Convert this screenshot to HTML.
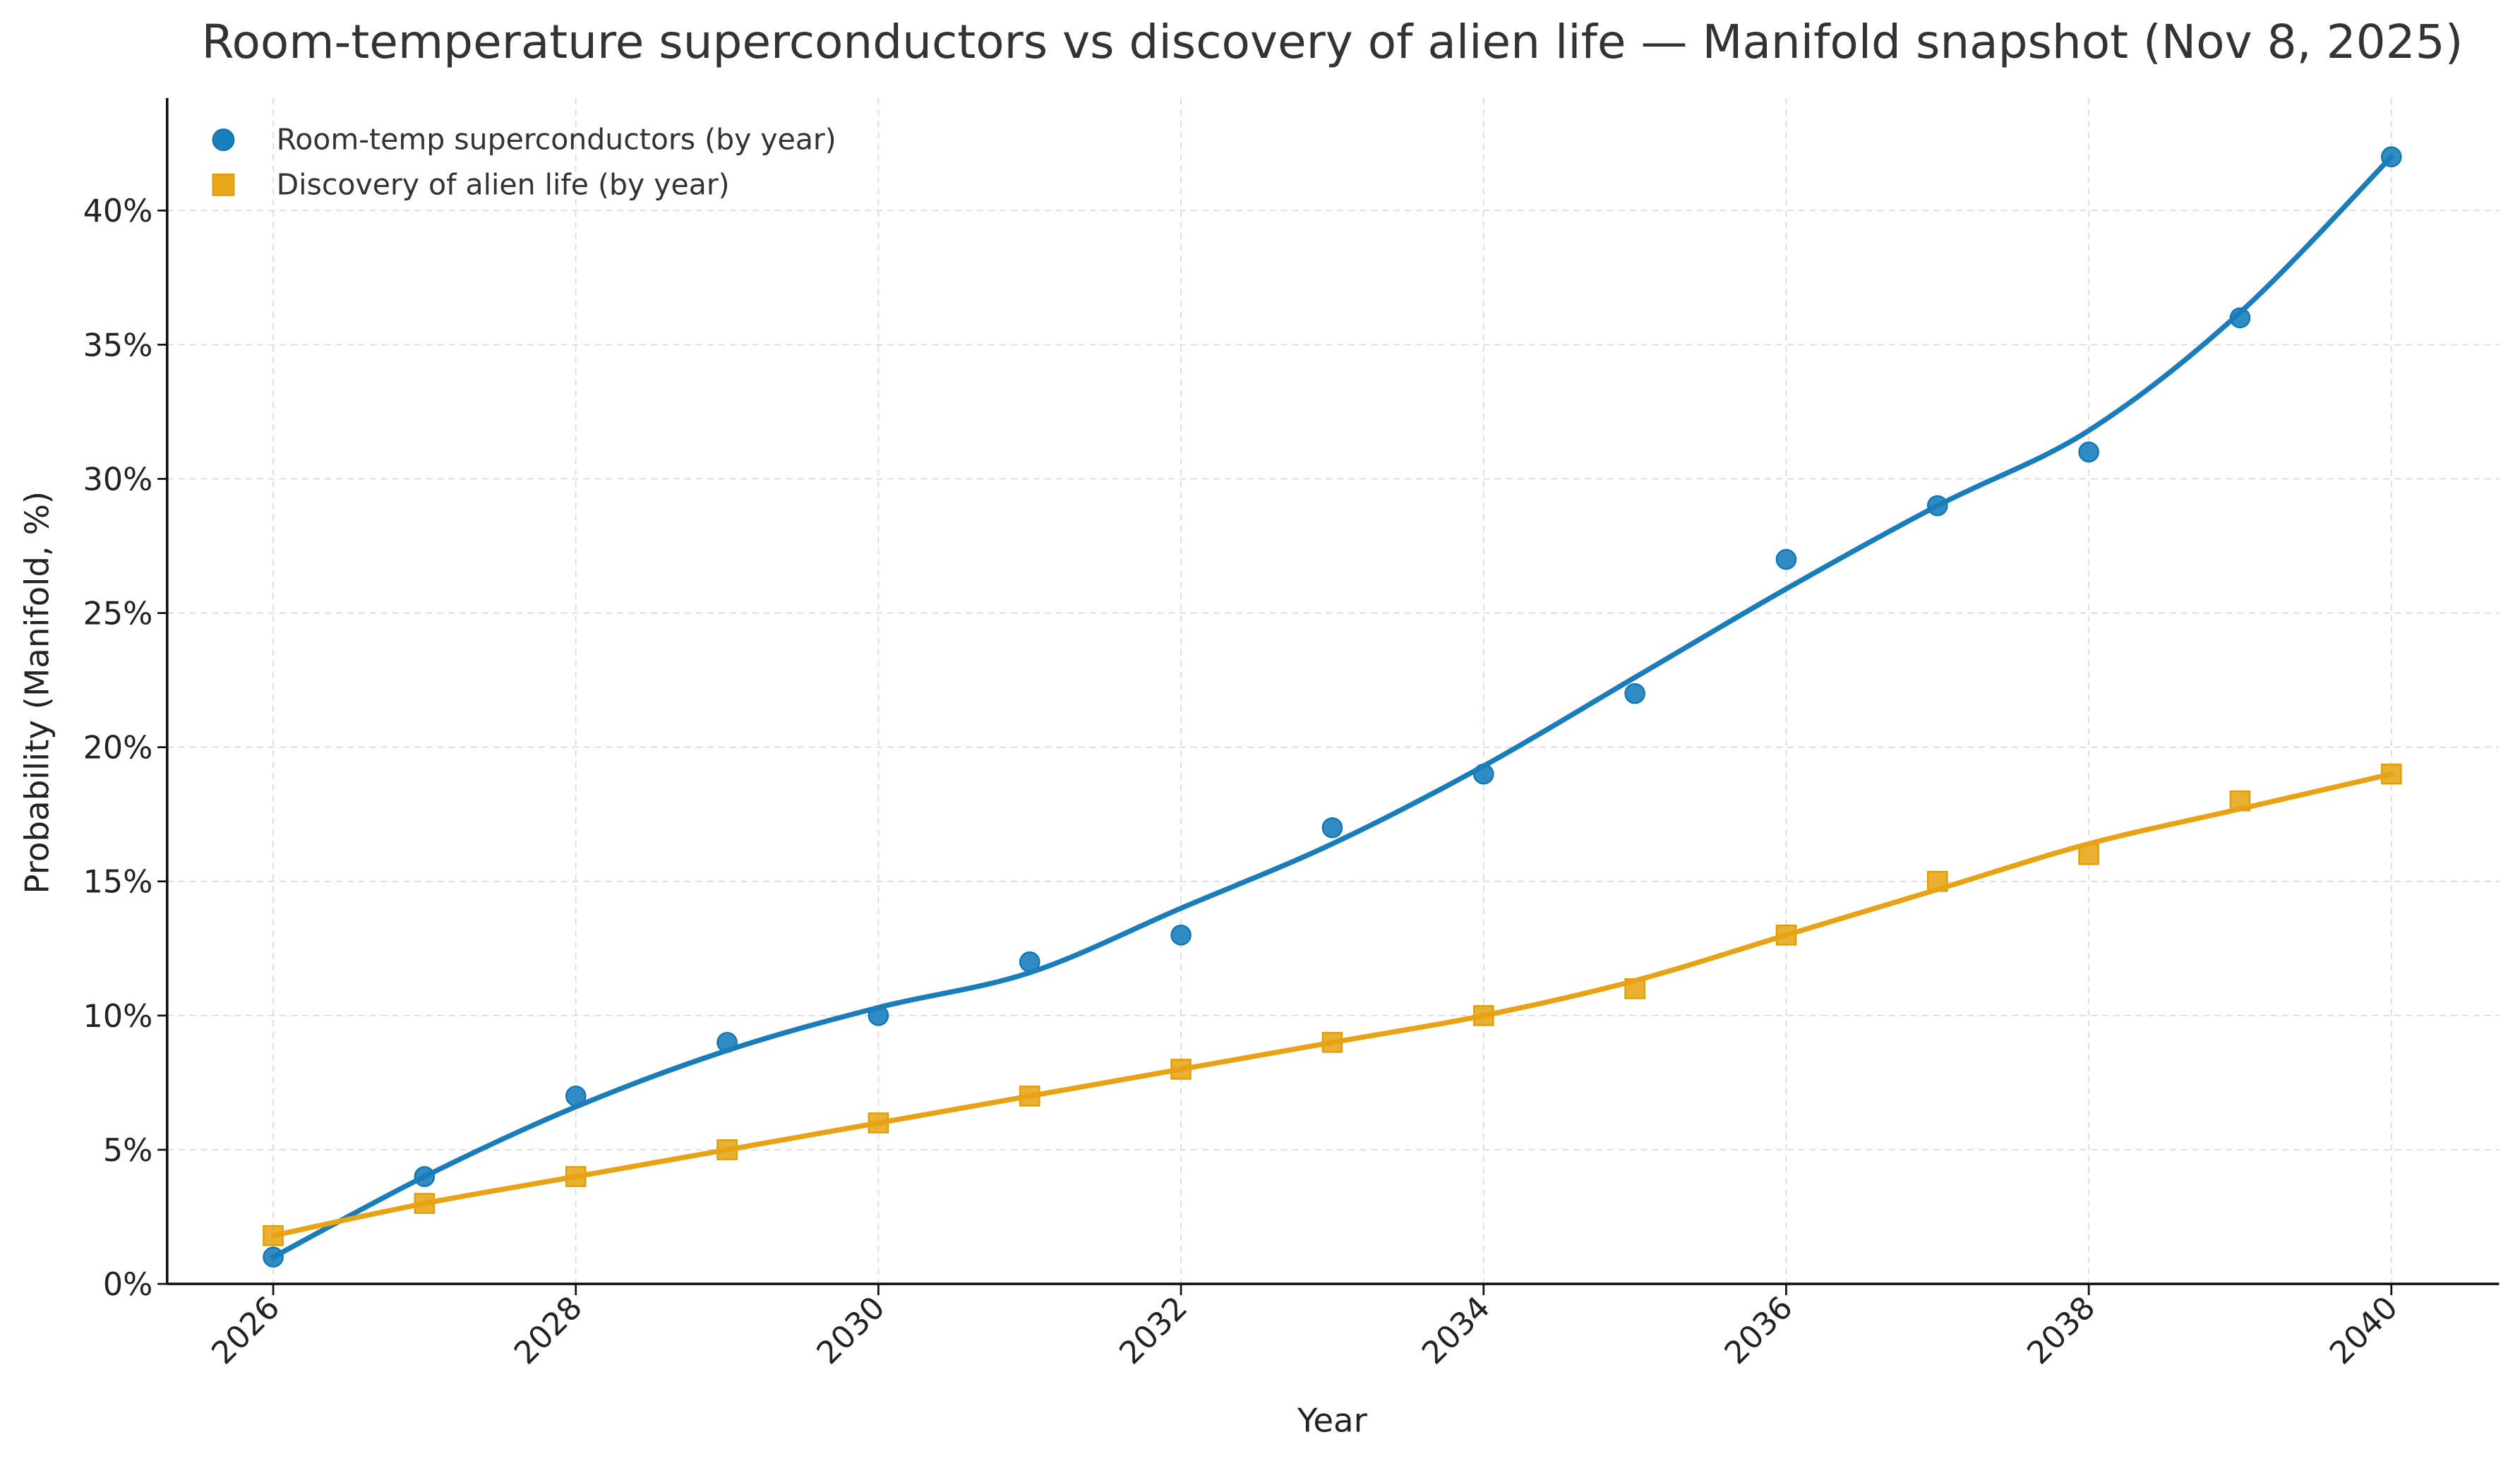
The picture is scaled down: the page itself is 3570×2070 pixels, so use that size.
<!DOCTYPE html>
<html><head><meta charset="utf-8"><style>html,body{margin:0;padding:0;background:#fff}svg{display:block}</style></head>
<body>
<svg id="s" width="3570" height="2070" viewBox="0 0 1568 909.2" preserveAspectRatio="none" xmlns="http://www.w3.org/2000/svg" font-family="'DejaVu Sans','Liberation Sans',sans-serif">
<rect width="1568" height="909.2" fill="#fff"/>
<g id="grid" stroke="#dcdcdc" stroke-width="0.8" stroke-dasharray="4,3"></g>
<text x="829" y="36" font-size="29" fill="#333" text-anchor="middle">Room-temperature superconductors vs discovery of alien life — Manifold snapshot (Nov 8, 2025)</text>
<g id="ticks" font-size="19.5" fill="#222"></g>
<text x="829" y="891" font-size="20.5" fill="#222" text-anchor="middle">Year</text>
<text transform="translate(30,431) rotate(-90)" font-size="20.5" fill="#222" text-anchor="middle">Probability (Manifold, %)</text>
<g id="series"></g>
<line x1="104" y1="61" x2="104" y2="799" stroke="#111" stroke-width="1.6"/>
<line x1="104" y1="799" x2="1555" y2="799" stroke="#111" stroke-width="1.6"/>
<circle cx="139" cy="87" r="6.5" fill="#1a80bb" stroke="#0f75b5" stroke-width="1"/>
<rect x="132.5" y="108.5" width="13" height="13" fill="#e8a71c" stroke="#e09d00" stroke-width="1"/>
<text x="172" y="93" font-size="18" fill="#333">Room-temp superconductors (by year)</text>
<text x="172" y="121" font-size="18" fill="#333">Discovery of alien life (by year)</text>
</svg>
<script>
var NS="http://www.w3.org/2000/svg";
function X(yr){return 170+(yr-2026)*94.14;}
function Y(p){return 799-16.7*p;}
function el(t,a,p){var e=document.createElementNS(NS,t);for(var k in a)e.setAttribute(k,a[k]);p.appendChild(e);return e;}
var g=document.getElementById('grid'),tk=document.getElementById('ticks'),se=document.getElementById('series');
for(var yr=2026;yr<=2040;yr+=2){var x=X(yr);el('line',{x1:x,y1:61,x2:x,y2:799},g);el('line',{x1:x,y1:799,x2:x,y2:806,stroke:'#111','stroke-width':1.2},tk);
var t=el('text',{transform:'translate('+(x+5)+',815) rotate(-45)','text-anchor':'end'},tk);t.textContent=yr;}
for(var p=0;p<=40;p+=5){var y=Y(p);el('line',{x1:104,y1:y,x2:1555,y2:y},g);el('line',{x1:98,y1:y,x2:104,y2:y,stroke:'#111','stroke-width':1.2},tk);
var t=el('text',{x:95,y:y+7,'text-anchor':'end'},tk);t.textContent=p+'%';}
function curve(v,col){var pts=v.map(function(p,i){return [X(2026+i),Y(p)];});var d='M'+pts[0];
for(var i=0;i<pts.length-1;i++){var p0=pts[Math.max(0,i-1)],p1=pts[i],p2=pts[i+1],p3=pts[Math.min(pts.length-1,i+2)];
var c1=[p1[0]+(p2[0]-p0[0])/6,p1[1]+(p2[1]-p0[1])/6],c2=[p2[0]-(p3[0]-p1[0])/6,p2[1]-(p3[1]-p1[1])/6];d+=' C'+c1+' '+c2+' '+p2;}
el('path',{d:d,fill:'none',stroke:col,'stroke-width':3.2,'stroke-linecap':'round'},se);}
var bf=[1,4,6.6,8.7,10.3,11.6,14.0,16.4,19.3,22.6,25.9,29,31.8,36.2,42];
var of=[1.8,3,4,5,6,7,8,9,10,11.3,13,14.7,16.4,17.7,19];
var bd=[1,4,7,9,10,12,13,17,19,22,27,29,31,36,42];
var od=[1.8,3,4,5,6,7,8,9,10,11,13,15,16,18,19];
bd.forEach(function(p,i){el('circle',{cx:X(2026+i),cy:Y(p),r:6,fill:'#1a80bb','fill-opacity':0.9,stroke:'#0f75b5','stroke-width':1},se);});
od.forEach(function(p,i){el('rect',{x:X(2026+i)-6,y:Y(p)-6,width:12,height:12,fill:'#e8a71c','fill-opacity':0.9,stroke:'#e09d00','stroke-width':1},se);});
curve(bf,'#1a7dbb');curve(of,'#e8a213');
</script>
</body></html>
